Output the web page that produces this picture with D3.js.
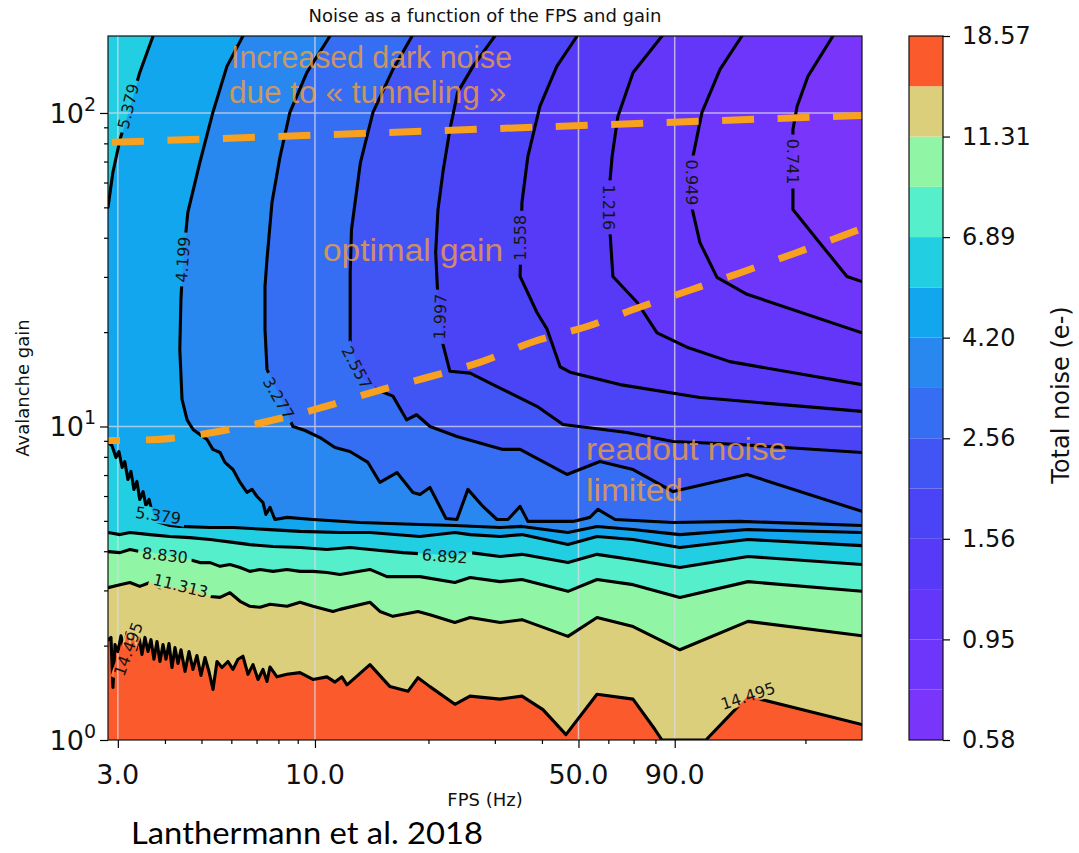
<!DOCTYPE html>
<html>
<head>
<meta charset="utf-8">
<script src="https://cdn.jsdelivr.net/npm/d3@7/dist/d3.min.js"></script>
<style>
  html, body { margin: 0; padding: 0; background: #ffffff; }
  svg { display: block; }
</style>
</head>
<body>
<svg id="chart" width="1079" height="853"></svg>
<script>
// ---------------- data ----------------
// contour levels of the total noise (e-), geometric steps
const levels = [0.578, 0.741, 0.949, 1.216, 1.558, 1.997, 2.557, 3.277, 4.199, 5.379, 6.892, 8.830, 11.313, 14.495, 18.570];
const colorbarTicks = [0.578, 0.949, 1.558, 2.557, 4.199, 6.892, 11.313, 18.570];

const fpsDomain = [2.825, 282.5];
const gainDomain = [1, 176];
const fpsTicks = [3, 10, 50, 90];
const fpsMinorTicks = [4, 5, 6, 7, 8, 9, 20, 30, 40, 60, 70, 80, 200];
const gainTicks = [1, 10, 100];
const gainMinorTicks = [2, 3, 4, 5, 6, 7, 8, 9, 20, 30, 40, 50, 60, 70, 80, 90];

// iso-noise lines, [fps, gain] pairs, each ordered so the noisier side lies on its right
const c0741 = [[236.6,176],[203,130.8],[190,104.9],[185.3,88.6],[185.3,69.5],[185.3,49.2],[214.6,39.5],[257.7,30.1],[282.5,29.0]];
const c0949 = [[135.7,176],[118.7,137.7],[106.3,100.4],[100.6,72.6],[98.8,53.0],[105,38.6],[116.5,29.9],[140,26.4],[282.5,19.9]];
const c1216 = [[83.3,176],[69.8,134.7],[63.6,97.5],[61.4,72.6],[59.9,51.8],[61.7,30.1],[71.5,24.9],[80.8,19.9],[97,17.9],[126,16.1],[282.5,13.6]];
const c1558 = [[49.6,176],[43.8,140.8],[39.5,104.9],[36.7,72.6],[35.4,51.8],[35,30.1],[38.8,23.1],[41.3,20.4],[44.7,15.5],[47.5,14.9],[64.4,13.6],[105,12.37],[282.5,11.17]];
const c1997 = [[30,176],[26.25,140.8],[23.9,116.3],[22.8,88.6],[21.9,66.0],[21.2,49.2],[20.9,35.9],[21.2,25.4],[21.7,18.9],[22.8,15.0],[25.8,14.8],[30.4,13.4],[38.8,11.6],[45.5,10.15],[67.2,9.57],[89.1,8.96],[134,8.76],[282.5,8.26]];
const c2557 = [[18.1,176],[16.1,137.7],[14.25,100.4],[13.2,69.5],[12.5,42.5],[12.4,31.0],[12.4,18.5],[13.2,14.4],[14.6,13.1],[16.1,12.5],[17.5,10.5],[18.6,10.9],[20.2,10.0],[23.8,9.29],[31.5,8.45],[35,8.45],[46.6,7.03],[57,7.73],[69.8,7.29],[89.1,6.2],[140,7.03],[282.5,5.36]];
const c3277 = [[10.96,176],[9.52,134.7],[8.58,100.4],[8.08,72.6],[7.69,51.8],[7.46,34.1],[7.37,28.0],[7.37,20.4],[7.46,15.2],[8.74,10.0],[9.41,9.71],[10.31,9.22],[11.3,8.57],[12.38,8.32],[13.82,7.68],[14.87,6.63],[16.5,7.13],[18.19,6.16],[18.99,6.07],[20.18,6.39],[22.26,5.09],[23.8,5.05],[25.45,6.30],[27.9,5.56],[30.4,5.05],[32.5,5.05],[35.0,5.56],[36.7,4.98],[48.35,4.98],[53.6,5.13],[56.3,5.44],[62.5,5.05],[89.1,4.94],[134.1,4.98],[282.5,4.83]];
const c4199 = [[6.44,176],[5.84,140.8],[5.36,100.4],[4.95,69.5],[4.60,48.2],[4.47,34.1],[4.41,25.4],[4.38,17.6],[4.44,12.2],[4.58,10.5],[4.75,9.78],[4.95,9.43],[5.17,9.09],[5.36,8.45],[5.60,8.26],[5.77,7.68],[6.06,7.29],[6.33,6.63],[6.60,6.16],[6.81,6.30],[7.02,5.98],[7.28,5.72],[7.41,5.24],[7.60,5.52],[7.83,5.05],[8.43,5.13],[9.88,5.05],[13.16,4.94],[18.99,4.87],[23.5,4.83],[31.0,4.76],[35.4,4.80],[46.9,4.59],[56.0,4.80],[69.8,4.69],[92.9,4.52],[140.8,4.69],[282.5,4.59]];
const c5379Top = [[3.72,176],[3.43,134.7],[3.23,104.9],[3.04,82.3],[2.91,64.6],[2.825,50.0]];
const c5379Low = [[2.825,8.89],[2.893,8.70],[2.966,7.96],[3.02,8.32],[3.08,7.40],[3.13,7.73],[3.19,6.78],[3.25,7.19],[3.31,6.30],[3.37,6.68],[3.43,5.85],[3.50,6.20],[3.56,5.60],[3.63,5.85],[3.70,5.32],[3.81,4.98],[4.12,4.83],[4.38,4.80],[5.27,4.76],[6.06,4.76],[7.60,4.69],[9.13,4.63],[11.65,4.59],[13.99,4.59],[18.99,4.46],[23.5,4.59],[25.8,4.52],[31.0,4.46],[35.4,4.52],[46.9,4.20],[56.0,4.46],[69.8,4.36],[92.9,4.11],[140.8,4.36],[282.5,4.17]];
const c6892 = [[2.825,4.59],[3.04,4.52],[3.23,4.59],[3.65,4.52],[4.12,4.46],[4.66,4.42],[5.27,4.36],[6.06,4.27],[6.72,4.20],[7.74,4.14],[9.13,4.11],[10.76,4.05],[12.38,4.11],[13.99,4.05],[17.12,3.96],[20.18,3.91],[23.5,3.85],[25.8,3.96],[31.0,3.85],[35.4,3.91],[46.9,3.68],[56.0,3.91],[69.8,3.76],[92.9,3.55],[140.8,3.85],[282.5,3.63]];
const c8830 = [[2.825,3.99],[3.04,3.96],[3.23,4.05],[3.43,3.99],[3.65,3.96],[3.88,3.91],[4.12,3.85],[4.38,3.82],[4.66,3.76],[4.95,3.68],[5.27,3.68],[5.60,3.58],[5.95,3.63],[6.33,3.55],[6.72,3.45],[7.15,3.50],[7.74,3.45],[8.43,3.50],[9.13,3.45],[9.88,3.45],[10.76,3.42],[11.65,3.37],[13.99,3.50],[15.52,3.32],[18.99,3.32],[23.5,3.18],[25.8,3.30],[31.0,3.20],[35.4,3.25],[46.9,2.98],[56.0,3.25],[69.8,3.13],[92.9,2.85],[140.8,3.20],[282.5,2.98]];
const c11313 = [[2.825,3.06],[3.04,3.13],[3.23,3.18],[3.43,3.09],[3.65,3.18],[3.88,3.06],[4.12,3.09],[4.38,3.02],[4.66,3.06],[4.95,2.95],[5.27,2.87],[5.60,2.85],[5.95,2.95],[6.33,2.77],[6.72,2.67],[7.15,2.65],[7.60,2.71],[8.43,2.67],[9.13,2.75],[9.88,2.67],[11.16,2.57],[11.65,2.61],[13.99,2.75],[14.87,2.57],[16.1,2.48],[18.76,2.57],[20.18,2.51],[23.5,2.37],[25.8,2.46],[31.0,2.37],[35.4,2.42],[46.9,2.14],[56.0,2.46],[69.8,2.30],[92.9,1.94],[140.8,2.39],[282.5,2.15]];
const c14495 = [[2.825,2.09],[2.877,2.124],[2.912,1.471],[2.948,2.016],[3.002,1.915],[3.058,2.15],[3.115,1.94],[3.172,2.20],[3.23,1.973],[3.289,2.186],[3.35,1.94],[3.413,2.14],[3.476,1.874],[3.54,2.124],[3.606,1.915],[3.673,2.09],[3.74,1.81],[3.81,2.06],[3.88,1.78],[3.953,2.016],[4.025,1.81],[4.10,2.031],[4.176,1.703],[4.253,1.973],[4.332,1.754],[4.412,1.94],[4.522,1.654],[4.634,1.915],[4.746,1.679],[4.864,1.86],[4.985,1.606],[5.108,1.833],[5.234,1.654],[5.364,1.45],[5.497,1.78],[5.667,1.703],[5.878,1.78],[6.061,1.679],[6.249,1.81],[6.442,1.85],[6.642,1.62],[6.848,1.74],[7.062,1.56],[7.28,1.679],[7.46,1.537],[7.597,1.71],[7.929,1.59],[8.426,1.62],[9.125,1.64],[9.879,1.56],[10.76,1.59],[11.30,1.53],[11.79,1.59],[12.16,1.50],[13.99,1.74],[15.81,1.48],[17.65,1.43],[18.76,1.58],[20.18,1.48],[23.51,1.30],[25.77,1.38],[30.96,1.35],[35.41,1.38],[40.25,1.25],[46.32,1.04],[55.98,1.40],[69.76,1.35],[79.78,1.08],[83.26,1],[108.9,1],[140.8,1.38],[282.5,1.12]];

// level index -> its iso-noise line(s)
const isoLines = [
  {level: 1, paths: [c0741]},
  {level: 2, paths: [c0949]},
  {level: 3, paths: [c1216]},
  {level: 4, paths: [c1558]},
  {level: 5, paths: [c1997]},
  {level: 6, paths: [c2557]},
  {level: 7, paths: [c3277]},
  {level: 8, paths: [c4199]},
  {level: 9, paths: [c5379Top, c5379Low]},
  {level: 10, paths: [c6892]},
  {level: 11, paths: [c8830]},
  {level: 12, paths: [c11313]},
  {level: 13, paths: [c14495]}
];

// inline labels on the iso-noise lines, anchored at [fps, gain]
const isoLabels = [
  {level: 1, at: [185.3, 70]},
  {level: 2, at: [100, 60]},
  {level: 3, at: [59.9, 50]},
  {level: 4, at: [35, 40]},
  {level: 5, at: [21.5, 22.4]},
  {level: 6, at: [12.9, 15.4]},
  {level: 7, at: [8.0, 12.3]},
  {level: 8, at: [4.47, 34.1]},
  {level: 9, at: [3.2, 105]},
  {level: 9, at: [3.84, 5.2]},
  {level: 10, at: [22.1, 3.85]},
  {level: 11, at: [4.0, 3.88]},
  {level: 12, at: [4.4, 3.1]},
  {level: 13, at: [140.8, 1.38]},
  {level: 13, at: [3.2, 1.95]}
];

// regime boundaries, [fps, gain]
const tunnelingLimit = [[2.825, 80.5], [282.5, 98.2]];
const optimalGain = [[2.825,9.02],[3.81,9.09],[5.36,9.57],[7.46,10.37],[10.44,11.5],[14.34,12.9],[19.82,14.33],[27.73,16.1],[38.1,18.67],[52.66,20.84],[72.33,23.96],[100,27.35],[137.4,31.22],[189.9,35.9],[282.5,42.8]];

// ---------------- styles / layout ----------------
const bandColors = ["#7a35fb","#6e35fb","#6336fa","#5739f8","#4b44f6","#4155f5","#356df3","#2888ef","#12a6ee","#22cfe2","#56efcb","#90f5a4","#dccf7c","#fb5a2c"];
const labelAngles = [90, 90, 90, -90, -88, 62, 60, -86, -76, 8, 4, 6, 14, -18, -70];
const frame = {left: 108, right: 862, top: 36, bottom: 740};
const cbar = {left: 909, right: 943};
const orange = "#f7a11f";
const notes = [
  {text: "Increased dark noise", x: 231, y: 68, len: 281},
  {text: "due to \u00ab tunneling \u00bb", x: 229, y: 103, len: 277},
  {text: "optimal gain", x: 323, y: 261, len: 180},
  {text: "readout noise", x: 586, y: 460, len: 201},
  {text: "limited", x: 586, y: 501, len: 97}
];
const axisFont = "DejaVu Sans, Verdana, sans-serif";

// ---------------- drawing ----------------
const svg = d3.select("#chart");
const defs = svg.append("defs");

const x = d3.scaleLog().domain(fpsDomain).range([frame.left, frame.right]);
const y = d3.scaleLog().domain(gainDomain).range([frame.bottom, frame.top]);
const toPx = p => [x(p[0]), y(p[1])];

defs.append("clipPath").attr("id", "plotClip")
  .append("rect")
  .attr("x", frame.left).attr("y", frame.top)
  .attr("width", frame.right - frame.left).attr("height", frame.bottom - frame.top);

// close an open line along the frame, walking clockwise from its end back to its start
function closeOnFrame(pts) {
  const {left, right, top, bottom} = frame;
  const w = right - left, h = bottom - top, P = 2 * (w + h), tol = 1.5;
  const perim = ([px, py]) => {
    if (Math.abs(py - top) < tol) return px - left;
    if (Math.abs(px - right) < tol) return w + (py - top);
    if (Math.abs(py - bottom) < tol) return w + h + (right - px);
    return 2 * w + h + (bottom - py);
  };
  const tS = perim(pts[0]), tE = perim(pts[pts.length - 1]);
  const span = ((tS - tE) % P + P) % P;
  const corners = [[w, [right, top]], [w + h, [right, bottom]], [2 * w + h, [left, bottom]], [0, [left, top]]]
    .map(([t, c]) => [((t - tE) % P + P) % P, c])
    .filter(([d]) => d > 0 && d < span)
    .sort((a, b) => a[0] - b[0])
    .map(d => d[1]);
  return pts.concat(corners);
}

const plot = svg.append("g").attr("clip-path", "url(#plotClip)");

// filled bands: lowest band underneath, each higher level painted over it
plot.append("rect")
  .attr("x", frame.left).attr("y", frame.top)
  .attr("width", frame.right - frame.left).attr("height", frame.bottom - frame.top)
  .attr("fill", bandColors[0]);

const polyLine = d3.line();
isoLines.forEach(set => {
  set.paths.forEach(path => {
    const poly = closeOnFrame(path.map(toPx));
    plot.append("path")
      .attr("d", polyLine(poly) + "Z")
      .attr("fill", bandColors[set.level])
      .attr("stroke", bandColors[set.level])
      .attr("stroke-width", 0.6);
  });
});

// grid at the major ticks
const grid = plot.append("g").attr("stroke", "#d9d9e6").attr("stroke-width", 1.5).attr("opacity", 0.75);
fpsTicks.forEach(v => grid.append("line")
  .attr("x1", x(v)).attr("x2", x(v)).attr("y1", frame.top).attr("y2", frame.bottom));
gainTicks.filter(v => v > gainDomain[0]).forEach(v => grid.append("line")
  .attr("x1", frame.left).attr("x2", frame.right).attr("y1", y(v)).attr("y2", y(v)));

// inline label geometry and the gaps they cut into their own line
const labelFont = 16;
const labelGeom = isoLabels.map((lab, i) => {
  const [cx, cy] = toPx(lab.at);
  const text = levels[lab.level].toFixed(3);
  return {level: lab.level, cx, cy, text, angle: labelAngles[i],
          w: text.length * 0.6 * labelFont + 6, h: labelFont * 0.95};
});

isoLines.forEach(set => {
  const mask = defs.append("mask").attr("id", "gap-" + set.level)
    .attr("maskUnits", "userSpaceOnUse")
    .attr("x", 0).attr("y", 0).attr("width", 1079).attr("height", 853);
  mask.append("rect").attr("x", 0).attr("y", 0).attr("width", 1079).attr("height", 853).attr("fill", "white");
  labelGeom.filter(g => g.level === set.level).forEach(g => {
    mask.append("rect")
      .attr("x", -g.w / 2).attr("y", -g.h / 2).attr("width", g.w).attr("height", g.h)
      .attr("transform", `translate(${g.cx},${g.cy}) rotate(${g.angle})`)
      .attr("fill", "black");
  });
});

// iso-noise lines
const lineGen = d3.line().x(d => x(d[0])).y(d => y(d[1]));
isoLines.forEach(set => {
  const g = plot.append("g").attr("mask", `url(#gap-${set.level})`);
  set.paths.forEach(path => {
    g.append("path")
      .attr("d", lineGen(path))
      .attr("fill", "none")
      .attr("stroke", "#000")
      .attr("stroke-width", 3.1)
      .attr("stroke-linejoin", "round")
      .attr("stroke-linecap", "round");
  });
});

// inline labels
plot.append("g").selectAll("text").data(labelGeom).join("text")
  .attr("transform", d => `translate(${d.cx},${d.cy}) rotate(${d.angle})`)
  .attr("text-anchor", "middle")
  .attr("dominant-baseline", "central")
  .attr("font-family", axisFont)
  .attr("font-size", labelFont)
  .attr("fill", "#151515")
  .text(d => d.text);

// regime boundaries
plot.append("path")
  .attr("d", lineGen(tunnelingLimit))
  .attr("fill", "none").attr("stroke", orange).attr("stroke-width", 7)
  .attr("stroke-dasharray", "32,23.5").attr("stroke-dashoffset", 51.5);
plot.append("path")
  .attr("d", d3.line().x(d => x(d[0])).y(d => y(d[1])).curve(d3.curveMonotoneX)(optimalGain))
  .attr("fill", "none").attr("stroke", orange).attr("stroke-width", 7)
  .attr("stroke-dasharray", "29,26").attr("stroke-dashoffset", 17);

// regime annotations
svg.append("g").selectAll("text").data(notes).join("text")
  .attr("x", d => d.x).attr("y", d => d.y)
  .attr("textLength", d => d.len).attr("lengthAdjust", "spacingAndGlyphs")
  .attr("font-family", "Liberation Sans, Arial, sans-serif")
  .attr("font-size", 31)
  .attr("fill", "#f4a03c").attr("fill-opacity", 0.8)
  .text(d => d.text);

// frame
svg.append("rect")
  .attr("x", frame.left).attr("y", frame.top)
  .attr("width", frame.right - frame.left).attr("height", frame.bottom - frame.top)
  .attr("fill", "none").attr("stroke", "#111").attr("stroke-width", 1.2);

// axes ticks
function styleAxis(g) {
  g.select(".domain").remove();
  g.selectAll(".tick line").attr("stroke", "#000").attr("stroke-width", 1.2);
}
svg.append("g").attr("transform", `translate(0,${frame.bottom})`)
  .call(d3.axisBottom(x).tickValues(fpsTicks).tickSize(8).tickFormat(""))
  .call(styleAxis);
svg.append("g").attr("transform", `translate(0,${frame.bottom})`)
  .call(d3.axisBottom(x).tickValues(fpsMinorTicks).tickSize(4).tickFormat(""))
  .call(styleAxis);
svg.append("g").attr("transform", `translate(${frame.left},0)`)
  .call(d3.axisLeft(y).tickValues(gainTicks).tickSize(8).tickFormat(""))
  .call(styleAxis);
svg.append("g").attr("transform", `translate(${frame.left},0)`)
  .call(d3.axisLeft(y).tickValues(gainMinorTicks).tickSize(4).tickFormat(""))
  .call(styleAxis);

// tick labels
svg.append("g").selectAll("text").data(fpsTicks).join("text")
  .attr("x", d => x(d)).attr("y", frame.bottom + 44)
  .attr("text-anchor", "middle")
  .attr("font-family", axisFont).attr("font-size", 27).attr("fill", "#111")
  .text(d => d.toFixed(1));

gainTicks.forEach(v => {
  const t = svg.append("text")
    .attr("x", frame.left - 12).attr("y", y(v) + 10)
    .attr("text-anchor", "end")
    .attr("font-family", axisFont).attr("font-size", 27).attr("fill", "#111");
  t.append("tspan").text("10");
  t.append("tspan").attr("font-size", 19).attr("dy", -12).text(Math.round(Math.log10(v)));
});

// axis titles
svg.append("text")
  .attr("x", (frame.left + frame.right) / 2).attr("y", 22)
  .attr("text-anchor", "middle")
  .attr("font-family", axisFont).attr("font-size", 18).attr("fill", "#111")
  .text("Noise as a function of the FPS and gain");
svg.append("text")
  .attr("x", (frame.left + frame.right) / 2).attr("y", 806)
  .attr("text-anchor", "middle")
  .attr("font-family", axisFont).attr("font-size", 18).attr("fill", "#111")
  .text("FPS (Hz)");
svg.append("text")
  .attr("transform", `translate(29,${(frame.top + frame.bottom) / 2}) rotate(-90)`)
  .attr("text-anchor", "middle")
  .attr("font-family", axisFont).attr("font-size", 18).attr("fill", "#111")
  .text("Avalanche gain");

// colorbar
const cb = d3.scaleLog().domain([levels[0], levels[levels.length - 1]]).range([frame.bottom, frame.top]);
const cbg = svg.append("g");
cbg.selectAll("rect.band").data(d3.range(levels.length - 1)).join("rect")
  .attr("class", "band")
  .attr("x", cbar.left).attr("width", cbar.right - cbar.left)
  .attr("y", i => cb(levels[i + 1])).attr("height", i => cb(levels[i]) - cb(levels[i + 1]))
  .attr("fill", i => bandColors[i]);
cbg.append("rect")
  .attr("x", cbar.left).attr("y", frame.top)
  .attr("width", cbar.right - cbar.left).attr("height", frame.bottom - frame.top)
  .attr("fill", "none").attr("stroke", "#111").attr("stroke-width", 1.2);
svg.append("g").attr("transform", `translate(${cbar.right},0)`)
  .call(d3.axisRight(cb).tickValues(colorbarTicks).tickSize(7).tickPadding(12).tickFormat(d => d.toFixed(2)))
  .call(g => {
    g.select(".domain").remove();
    g.selectAll(".tick line").attr("stroke", "#000").attr("stroke-width", 1.2);
    g.selectAll(".tick text").attr("font-family", axisFont).attr("font-size", 24).attr("fill", "#111");
  });
svg.append("text")
  .attr("transform", `translate(1069,395) rotate(-90)`)
  .attr("text-anchor", "middle")
  .attr("font-family", axisFont).attr("font-size", 24).attr("fill", "#111")
  .text("Total noise (e-)");

// citation
svg.append("text")
  .attr("x", 131).attr("y", 844)
  .attr("textLength", 352).attr("lengthAdjust", "spacingAndGlyphs")
  .attr("font-family", "Lato, Liberation Sans, sans-serif")
  .attr("font-size", 30).attr("fill", "#000")
  .text("Lanthermann et al. 2018");
</script>
</body>
</html>
